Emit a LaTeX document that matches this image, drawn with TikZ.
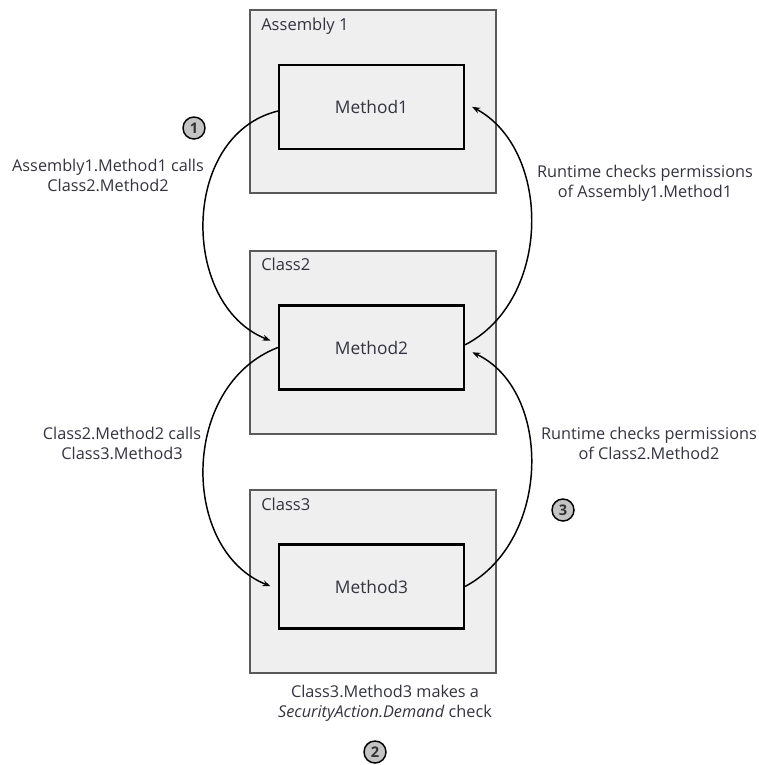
\documentclass[tikz,border=0pt]{standalone}
\usepackage{fontspec}
\setmainfont{Open Sans}
\usetikzlibrary{arrows.meta}
\definecolor{boxfill}{HTML}{EFEFEF}
\definecolor{boxedge}{HTML}{5A5A5A}
\definecolor{txt}{HTML}{333340}
\definecolor{badge}{HTML}{C4C4C4}
\tikzset{
  outerbox/.style={draw=boxedge, fill=boxfill, line width=0.8pt, minimum width=184.5pt, minimum height=137.25pt, inner sep=0pt},
  methodbox/.style={draw=black, fill=boxfill, line width=1.6pt, minimum width=138.75pt, minimum height=63pt, inner sep=0pt, font=\fontsize{13}{15}\selectfont, text=txt},
  boxtitle/.style={anchor=north west, inner sep=0pt, font=\fontsize{12.4}{14}\selectfont, text=txt},
  note/.style={align=center, inner sep=0pt, font=\fontsize{12.2}{15}\selectfont, text=txt},
  badgestyle/.style={circle, draw=black, fill=badge, line width=1.1pt, minimum size=16.5pt, inner sep=0pt, font=\fontsize{11}{11}\selectfont\bfseries, text=black!80},
  flow/.style={line width=1.1pt, -{Stealth[length=6pt,width=4.5pt]}},
}
\begin{document}
\begin{tikzpicture}[x=0.75pt, y=-0.75pt]
\useasboundingbox (0,0) rectangle (759,765);

% containers
\node[outerbox] (asm1) at (373,101.5) {};
\node[outerbox] (cls2) at (373,342.5) {};
\node[outerbox] (cls3) at (373,581.5) {};
\node[boxtitle] (asm1t) at (261,18) {Assembly 1};
\node[boxtitle] (cls2t) at (261,258) {Class2};
\node[boxtitle] (cls3t) at (261,498) {Class3};

% methods
\node[methodbox] (m1) at (371.5,107) {Method1};
\node[methodbox] (m2) at (371.5,347.5) {Method2};
\node[methodbox] (m3) at (371.5,586.5) {Method3};

% calls going down on the left
\draw[flow, shorten >=6pt] ([yshift=-3pt]m1.west) .. controls (180,135) and (180,305) .. ([yshift=3pt]m2.west);
\draw[flow, shorten >=6pt] ([yshift=0pt]m2.west) .. controls (180,385) and (180,550) .. ([yshift=-2pt]m3.west);

% permission checks going up on the right
\draw[flow, shorten >=6pt] ([yshift=2pt]m2.east) .. controls (552,300) and (552,150) .. ([yshift=3pt]m1.east);
\draw[flow, shorten >=6pt] ([yshift=0pt]m3.east) .. controls (552,540) and (552,390) .. ([yshift=-1pt]m2.east);

% captions
\node[note] (n1) at (108,175) {Assembly1.Method1 calls\\Class2.Method2};
\node[note] (n2) at (645,183) {Runtime checks permissions\\of Assembly1.Method1};
\node[note] (n3) at (122,443) {Class2.Method2 calls\\Class3.Method3};
\node[note] (n4) at (649,443) {Runtime checks permissions\\of Class2.Method2};
\node[note] (n5) at (385,703) {Class3.Method3 makes a\\\textit{SecurityAction.Demand} check};

% step markers
\node[badgestyle] (b1) at (194,128) {1};
\node[badgestyle] (b2) at (375,752) {2};
\node[badgestyle] (b3) at (563,510) {3};
\end{tikzpicture}
\end{document}
